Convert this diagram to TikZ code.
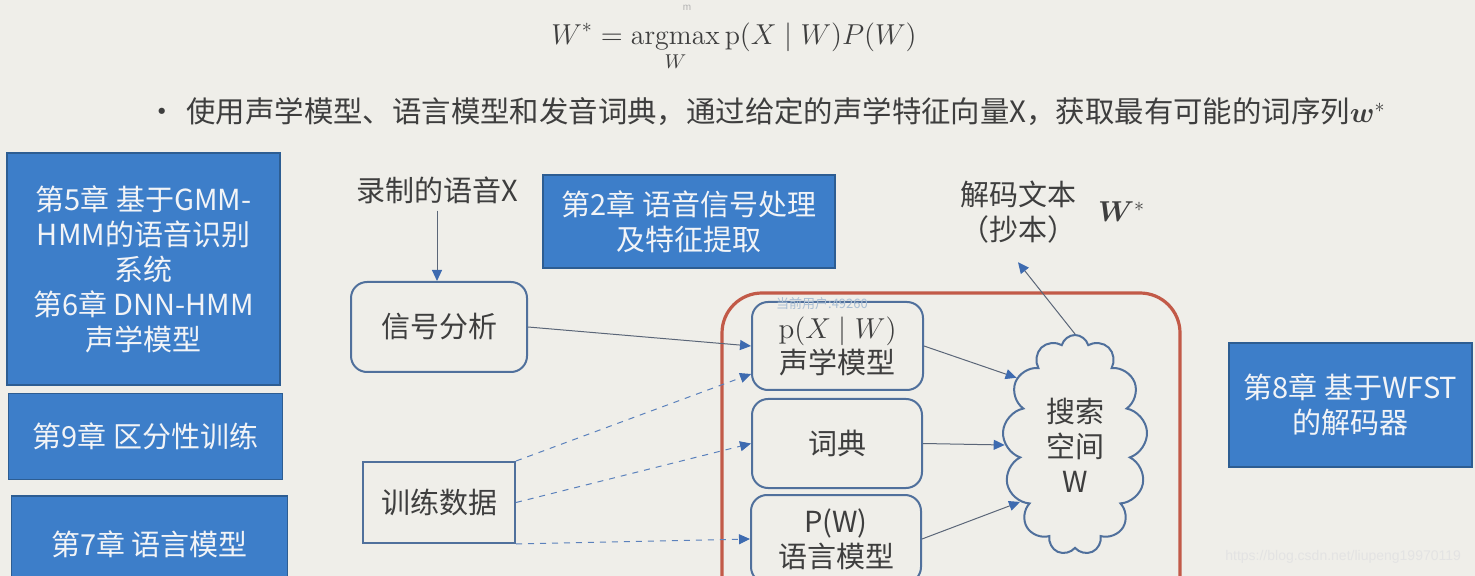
\documentclass[tikz,border=0pt]{standalone}
\usepackage{fontspec}
\usepackage{amsmath,amssymb,bm}
\newfontfamily\cjk{Noto Sans CJK SC}
\newfontfamily\wmfont{Liberation Sans}
\usepackage{tikz}
\usetikzlibrary{arrows.meta,positioning,shapes.symbols}
\definecolor{paper}{HTML}{EFEEE9}
\definecolor{ink}{HTML}{3E3E3E}
\definecolor{chapblue}{HTML}{3D7EC9}
\definecolor{chapedge}{HTML}{2D5D92}
\definecolor{chaptext}{HTML}{F2F4F7}
\definecolor{boxedge}{HTML}{50709C}
\definecolor{framered}{HTML}{C25A48}
\definecolor{arrowline}{HTML}{5B6678}
\definecolor{arrowhead}{HTML}{3E6BB0}
\definecolor{wmark}{HTML}{A9BED3}
\tikzset{
  every node/.style={font=\cjk\fontsize{14.5}{17.5}\selectfont,text=ink},
  chapter/.style={draw=chapedge,line width=0.8pt,fill=chapblue,text=chaptext,align=center,inner sep=2pt},
  module/.style={draw=boxedge,line width=1pt,rounded corners=8pt,fill=paper,align=center,inner sep=2pt},
  plainbox/.style={draw=boxedge,line width=1pt,fill=paper,align=center,inner sep=2pt},
  flow/.style={-{Triangle[length=5.5pt,width=5pt,color=arrowhead]},draw=arrowline,line width=0.5pt},
  trainarr/.style={flow,dashed,draw=arrowhead!85},
  wmtext/.style={font=\cjk\fontsize{6.5}{7}\selectfont,text=wmark,inner sep=0pt},
  urltext/.style={font=\wmfont\fontsize{7}{8}\selectfont,text=white!78!gray}
}
\begin{document}
\begin{tikzpicture}[x=0.5pt,y=-0.5pt]
  \fill[paper] (0,0) rectangle (1475,576);
  \useasboundingbox (0,0) rectangle (1475,576);
  \clip (0,0) rectangle (1475,576);

  % formula and goal
  \node[wmtext,text=gray!60,font=\wmfont\fontsize{5}{6}\selectfont] (mark) at (687,8) {m};
  \node[font=\fontsize{14}{18}\selectfont] (bayes) at (734,47) {$\displaystyle W^{*}=\operatorname*{argmax}_{W}\mathrm{p}(X\mid W)P(W)$};
  \node[font=\cjk\fontsize{14.7}{18}\selectfont,anchor=west] (goal) at (140,112) {•\hspace{5pt}使用声学模型、语言模型和发音词典，通过给定的声学特征向量X，获取最有可能的词序列$\bm{w}^{*}$};

  % chapters on the left
  \node[chapter,minimum width=136.5pt,minimum height=116pt] (ch56) at (143.5,269) {第5章 基于GMM-\\HMM的语音识别\\系统\\第6章 DNN-HMM\\声学模型};
  \node[chapter,minimum width=137pt,minimum height=43pt,below=3.5pt of ch56,xshift=1pt] (ch9) {第9章 区分性训练};
  \node[chapter,minimum width=138pt,minimum height=48.5pt,below=7.5pt of ch9,xshift=2pt] (ch7) {第7章 语言模型};

  % front end
  \node (rec) at (437,190) {录制的语音X};
  \node[chapter,minimum width=146pt,minimum height=46.5pt] (ch2) at (689,221.5) {第2章 语音信号处理\\及特征提取};
  \node[module,minimum width=88pt,minimum height=45pt] (sig) at (439,327) {信号分析};
  \node[plainbox,minimum width=76pt,minimum height=40.5pt] (train) at (439,502.5) {训练数据};

  % decoder
  \node[draw=framered,line width=1.6pt,rounded corners=20pt,minimum width=229pt,minimum height=165pt] (decoder) at (951,458) {};
  \node[module,minimum width=85.5pt,minimum height=44pt] (am) at (837.5,346) {$\mathrm{p}(X\mid W)$\\声学模型};
  \node[module,minimum width=85pt,minimum height=44.5pt] (dict) at (837,443.5) {词典};
  \node[module,minimum width=85pt,minimum height=44pt] (lm) at (836,539) {P(W)\\语言模型};
  \node[cloud,draw=boxedge,line width=1pt,fill=paper,cloud puffs=13,aspect=0.66,minimum width=72.5pt,minimum height=110pt,align=center,inner sep=0pt] (search) at (1075,445) {搜索\\空间\\W};
  \node[wmtext] (user) at (822,304) {当前用户:49260};

  \node[align=center] (dec) at (1018,212) {解码文本\\（抄本）};
  \node[right=4pt of dec,font=\fontsize{14}{18}\selectfont] (wstar) {$\bm{W}^{*}$};

  \node[chapter,minimum width=121.5pt,minimum height=62pt] (ch8) at (1350.5,405) {第8章 基于WFST\\的解码器};
  \node[urltext,anchor=east] (url) at (1468,557) {https://blog.csdn.net/liupeng19970119};

  \draw[flow] (rec.south) -- (rec.south |- sig.north);
  \draw[flow] (sig.east) -- (am.west);
  \draw[trainarr] (train.north east) -- ([yshift=8.5pt]am.south west);
  \draw[trainarr] (train.east) -- (dict.west);
  \draw[trainarr] (train.south east) -- (lm.west);
  \draw[flow] (am.east) -- (search.131);
  \draw[flow] (dict.east) -- (search.west);
  \draw[flow] (lm.east) -- (search.226);
  \draw[flow] (search.north) -- ([yshift=-6pt]dec.south);
\end{tikzpicture}
\end{document}
